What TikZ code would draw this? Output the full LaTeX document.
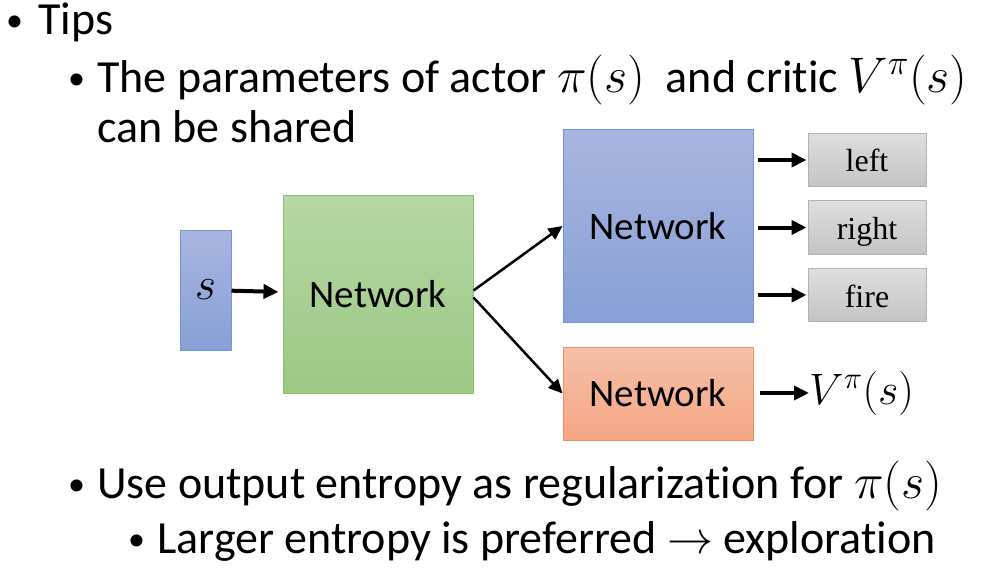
\RequirePackage{fix-cm}
\documentclass[tikz,border=0pt]{standalone}
\usepackage{fontspec}
\setmainfont[Ligatures=NoCommon]{Carlito}
\newfontfamily\timesfont{Liberation Serif}
\usetikzlibrary{arrows.meta,shadings}

\definecolor{blueTop}{RGB}{170,181,224}
\definecolor{blueBot}{RGB}{135,160,214}
\definecolor{blueLine}{RGB}{118,148,213}
\definecolor{greenTop}{RGB}{182,214,166}
\definecolor{greenBot}{RGB}{157,201,131}
\definecolor{greenLine}{RGB}{135,195,105}
\definecolor{orangeTop}{RGB}{246,192,168}
\definecolor{orangeBot}{RGB}{244,166,132}
\definecolor{orangeLine}{RGB}{242,145,95}
\definecolor{grayTop}{RGB}{222,222,222}
\definecolor{grayBot}{RGB}{196,196,196}
\definecolor{grayLine}{RGB}{178,178,178}

% bigger math, as in the slide
\newcommand{\mth}[1]{{\fontsize{50}{54}\selectfont$#1$}}

\tikzset{
    txt/.style={anchor=base west, inner sep=0pt, font=\fontsize{46}{54}\selectfont},
    dot/.style={anchor=base west, inner sep=0pt, font=\fontsize{34}{40}\selectfont},
    netbox/.style={draw, line width=1pt, inner sep=0pt, minimum width=190pt,
        font=\fontsize{39}{46}\selectfont},
    bluebox/.style={netbox, draw=blueLine, top color=blueTop, bottom color=blueBot},
    outbox/.style={draw=grayLine, line width=1pt, inner sep=0pt, minimum width=118pt,
        minimum height=53pt, text height=24pt, text depth=0pt,
        top color=grayTop, bottom color=grayBot,
        font=\timesfont\fontsize{32}{38}\selectfont},
    arr/.style={-{Triangle[length=15pt,width=14pt]}, line width=4pt},
    thinarr/.style={-{Triangle[length=14pt,width=13pt]}, line width=2.5pt},
}

\begin{document}
\begin{tikzpicture}[x=1pt, y=-1pt]
    \useasboundingbox (0,0) rectangle (982,572);

    % Text
    \node[dot] (b1) at (6,32) {•};
    \node[txt] (tips) at (38,35) {Tips};
    \node[dot] (b2) at (68,90) {•};
    \node[txt] (share1) at (97,93) {The parameters of actor \mth{\pi(s)}\ \ and critic \mth{V^{\pi}(s)}};
    \node[txt] (share2) at (97,143) {can be shared};
    \node[dot] (b3) at (68,495) {•};
    \node[txt] (entropy) at (97,498) {Use output entropy as regularization for \mth{\pi(s)}};
    \node[dot] (b4) at (128,550) {•};
    \node[txt] (explore) at (157,553) {Larger entropy is preferred $\rightarrow$ exploration};

    % Networks
    \node[bluebox, minimum width=51pt, minimum height=120pt,
        font=\fontsize{46}{50}\selectfont] (s) at (205.5,290) {$s$};
    \node[netbox, draw=greenLine, top color=greenTop, bottom color=greenBot,
        minimum height=197pt] (shared) at (378,294.5) {Network};
    \node[bluebox, minimum height=192pt] (actor) at (658,226) {Network};
    \node[netbox, draw=orangeLine, top color=orangeTop, bottom color=orangeBot,
        minimum height=93pt] (critic) at (658,393.5) {Network};

    \draw[arr, shorten >=4pt] (s) -- (shared);
    \draw[thinarr] (shared.east) ++(0,-4) coordinate (sa) (sa) -- (actor.west);
    \draw[thinarr] (shared.east) ++(0,3) coordinate (sc) (sc) -- (critic.west);

    % Actions
    \foreach \name/\lbl/\y in {lft/left/160, rgt/right/227.5, fir/fire/295} {
        \node[outbox] (\name) at (867,\y) {\lbl};
        \draw[arr, shorten <=4pt, shorten >=1pt] (actor.east |- \name) -- (\name);
    }

    % Value
    \node[anchor=west, inner sep=0pt, font=\fontsize{44}{50}\selectfont] (val) at (809,393) {$V^{\pi}(s)$};
    \draw[arr, shorten <=6pt] (critic.east |- val.west) -- (val.west);
\end{tikzpicture}
\end{document}
